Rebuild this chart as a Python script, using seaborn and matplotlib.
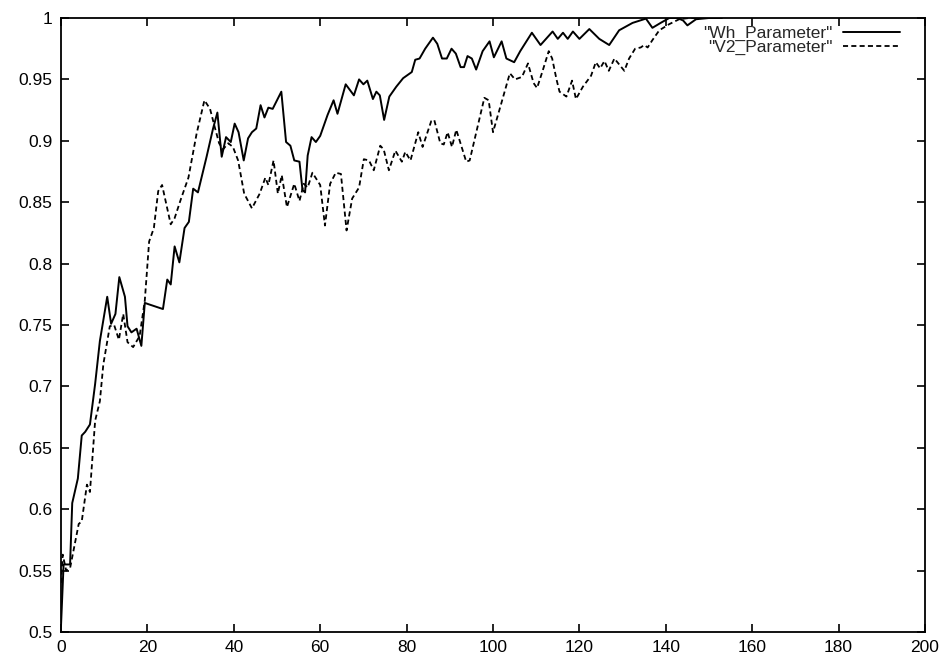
import numpy as np
import pandas as pd
import matplotlib
matplotlib.use("Agg")
import matplotlib.pyplot as plt
import seaborn as sns

# values (vertices of each polyline)
wh_x = [0, 0.6, 2.1, 2.6, 3.9, 4.8, 5.6, 6.7, 7.9, 9.0, 10.7, 11.6, 12.6, 13.5, 14.8,
        15.4, 16.3, 17.5, 18.6, 19.4, 20.2, 23.6, 24.6, 25.4, 26.3, 27.4, 28.6, 29.6,
        30.6, 31.7, 33.7, 35.2, 36.2, 37.2, 38.2, 39.3, 40.2, 41.1, 42.3, 43.3, 44.2,
        45.2, 46.2, 47.1, 48.0, 49.0, 51.0, 52.1, 53.1, 54.0, 55.2, 55.9, 56.5, 57.1,
        58.0, 59.0, 60.0, 61.7, 63.1, 64.0, 65.9, 67.8, 69.0, 70.0, 70.9, 72.2, 73.0,
        73.8, 74.8, 76.0, 77.6, 79.2, 81.2, 82.0, 83.0, 84.3, 86.1, 87.1, 88.2, 89.3,
        90.4, 91.4, 92.5, 93.3, 94.1, 95.1, 96.1, 97.6, 99.2, 100.2, 102.0, 103.1,
        104.9, 106.3, 109.0, 111.0, 113.8, 115.0, 116.2, 117.3, 118.5, 120.0, 122.3,
        124.6, 126.9, 129.2, 132.3, 135.4, 136.9, 138.8, 140.8, 142.7, 144.0, 145.0,
        147.0, 150.0, 153.0]
wh_y = [0.505, 0.555, 0.555, 0.605, 0.625, 0.66, 0.663, 0.669, 0.702, 0.737, 0.773,
        0.751, 0.759, 0.789, 0.773, 0.749, 0.744, 0.747, 0.733, 0.768, 0.767, 0.763,
        0.787, 0.783, 0.814, 0.801, 0.829, 0.834, 0.861, 0.858, 0.887, 0.910, 0.923,
        0.887, 0.903, 0.899, 0.914, 0.907, 0.884, 0.902, 0.907, 0.910, 0.929, 0.919,
        0.927, 0.926, 0.940, 0.899, 0.896, 0.884, 0.883, 0.860, 0.858, 0.888, 0.903,
        0.899, 0.904, 0.921, 0.933, 0.922, 0.946, 0.937, 0.950, 0.946, 0.949, 0.934,
        0.940, 0.937, 0.917, 0.936, 0.944, 0.951, 0.956, 0.966, 0.967, 0.975, 0.984,
        0.979, 0.967, 0.967, 0.975, 0.971, 0.960, 0.960, 0.969, 0.967, 0.958, 0.973,
        0.981, 0.968, 0.981, 0.967, 0.964, 0.973, 0.988, 0.978, 0.989, 0.983, 0.988,
        0.983, 0.989, 0.983, 0.991, 0.983, 0.978, 0.990, 0.996, 0.9995, 0.992, 0.996,
        1.0, 1.0, 0.998, 0.994, 0.999, 1.0, 1.0]

v2_x = [0, 0.4, 1.2, 2.1, 4.1, 4.8, 6.0, 6.7, 7.9, 9.0, 9.8, 11.3, 12.3, 13.4, 14.4,
        15.4, 16.7, 18.2, 19.4, 20.4, 21.5, 22.5, 23.4, 25.4, 26.3, 27.8, 29.5, 31.4,
        33.2, 34.5, 35.6, 36.6, 37.5, 38.7, 39.8, 41.0, 42.4, 44.2, 46.0, 47.3, 48.0,
        49.2, 50.2, 51.1, 52.3, 54.0, 55.2, 56.2, 57.1, 58.2, 60.0, 61.1, 62.3, 63.6,
        64.8, 66.1, 67.4, 69.0, 70.1, 71.3, 72.4, 73.9, 74.7, 75.9, 77.4, 78.9, 79.7,
        80.9, 82.7, 83.7, 85.7, 86.4, 87.8, 88.6, 89.5, 90.5, 91.5, 93.8, 94.6, 98.0,
        99.0, 100.0, 101.8, 103.9, 105.1, 106.7, 108.1, 109.4, 110.2, 111.4, 112.9,
        113.7, 114.7, 115.4, 117.0, 118.3, 119.2, 120.8, 122.7, 123.8, 124.8, 125.8,
        126.8, 128.1, 130.4, 131.5, 132.9, 134.2, 135.0, 135.8, 136.9, 138.5, 140.8,
        143.1, 145.4, 149.0, 153.0]
v2_y = [0.54, 0.563, 0.55, 0.552, 0.588, 0.59, 0.62, 0.614, 0.672, 0.688, 0.718, 0.749,
        0.75, 0.738, 0.759, 0.736, 0.732, 0.741, 0.77, 0.818, 0.829, 0.859, 0.864,
        0.832, 0.837, 0.853, 0.870, 0.906, 0.933, 0.926, 0.911, 0.898, 0.893, 0.898,
        0.895, 0.884, 0.857, 0.845, 0.857, 0.870, 0.864, 0.884, 0.857, 0.872, 0.846,
        0.865, 0.851, 0.865, 0.862, 0.874, 0.864, 0.831, 0.865, 0.874, 0.873, 0.827,
        0.853, 0.862, 0.885, 0.884, 0.876, 0.896, 0.893, 0.876, 0.892, 0.883, 0.891,
        0.884, 0.907, 0.895, 0.916, 0.917, 0.898, 0.897, 0.907, 0.895, 0.909, 0.883,
        0.884, 0.935, 0.933, 0.907, 0.929, 0.955, 0.950, 0.952, 0.963, 0.947, 0.943,
        0.956, 0.973, 0.967, 0.950, 0.940, 0.936, 0.949, 0.934, 0.944, 0.953, 0.964,
        0.959, 0.965, 0.957, 0.967, 0.957, 0.967, 0.975, 0.976, 0.978, 0.976, 0.982,
        0.990, 0.995, 0.999, 1.0, 1.0, 1.0]

x_ticks = [0, 20, 40, 60, 80, 100, 120, 140, 160, 180, 200]
y_ticks = [0.5, 0.55, 0.6, 0.65, 0.7, 0.75, 0.8, 0.85, 0.9, 0.95, 1]
y_labels = ["0.5", "0.55", "0.6", "0.65", "0.7", "0.75", "0.8", "0.85", "0.9", "0.95", "1"]

DASH = [2.8, 1.8]

sns.set_style("ticks")
plt.rcParams["font.family"] = ["Liberation Sans", "DejaVu Sans"]

fig = plt.figure(figsize=(9.43, 6.57), dpi=100)
ax = fig.add_axes([61 / 943, 1 - 632 / 657, 864 / 943, 614 / 657])

df_wh = pd.DataFrame({"x": wh_x, "y": wh_y})
df_v2 = pd.DataFrame({"x": v2_x, "y": v2_y})
sns.lineplot(data=df_wh, x="x", y="y", ax=ax, sort=False, color="black", lw=1.4,
             label='"Wh_Parameter"')
sns.lineplot(data=df_v2, x="x", y="y", ax=ax, sort=False, color="black", lw=1.3,
             label='"V2_Parameter"')
ax.lines[1].set_dashes(DASH)

ax.set_xlim(0, 200)
ax.set_ylim(0.5, 1)
ax.set_xticks(x_ticks)
ax.set_xticklabels([str(t) for t in x_ticks])
ax.set_yticks(y_ticks)
ax.set_yticklabels(y_labels)
ax.set_xlabel("")
ax.set_ylabel("")
ax.tick_params(direction="in", length=6, width=1.2, top=True, right=True,
               labelsize=12.5, colors="black", pad=6)
for sp in ax.spines.values():
    sp.set_linewidth(1.3)
    sp.set_color("black")

leg = ax.legend(loc="upper right", bbox_to_anchor=(1 - 25 / 864, 1 - 8 / 614),
                frameon=False, markerfirst=False, fontsize=12.5, handlelength=3.3,
                handletextpad=0.6, labelspacing=-0.1, borderpad=0, borderaxespad=0)
leg.get_lines()[1].set_dashes(DASH)

fig.savefig("out.png", dpi=100)
